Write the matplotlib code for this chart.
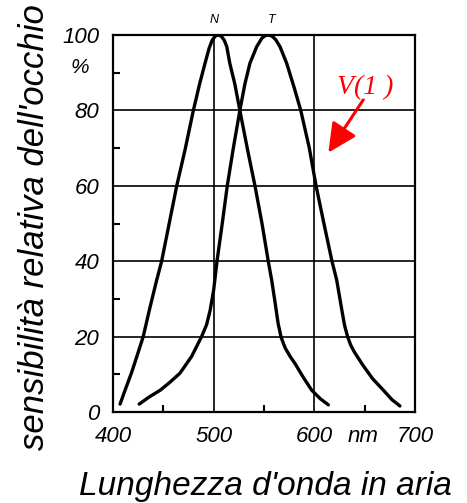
import matplotlib
matplotlib.use("Agg")
import matplotlib.pyplot as plt
from matplotlib.patches import ArrowStyle

# Scotopic (N) curve
n_wl = [407, 412, 418.5, 424, 430, 436.5, 443.4, 448.3, 455.8, 463.3, 471.5, 479.8, 486, 491.4, 495.5, 498.5, 501.5, 504.6,
        507.5, 510.5, 513, 516, 521, 526, 533.7, 541, 548, 554.2, 557.6, 561, 564, 567, 571, 576, 580.7, 589, 597.3, 606, 613.9]
n_val = [2.1, 5.8, 10.5, 15, 20, 27.5, 35, 40, 50, 60, 69.5, 80, 87, 92.5, 96.5, 98.6, 99.7, 100,
         99.7, 98.6, 96.9, 92.5, 87, 80, 69.5, 60, 50, 40, 35, 29, 23.5, 19.8, 17, 14.7, 12.9, 9.2, 5.8, 3.5, 1.9]

# Photopic (T) curve
t_wl = [426, 436, 447, 457, 466.5, 478, 488, 493, 496.5, 500, 503.3, 508.5, 513.5, 519.5, 526, 531, 536, 542.7, 548, 551, 554.3,
        558, 561.5, 565.9, 572.5, 580, 586.5, 595, 601.7, 609.5, 617.5, 622.2, 627, 630, 633, 636, 640, 648, 658, 668.5, 677, 685]
t_val = [2.1, 4, 5.8, 8, 10.3, 14.7, 20, 23.2, 27, 32.4, 40, 50, 60, 70, 80, 87, 92.5, 96.9, 99.2, 99.8, 100,
         99.7, 98.8, 96.9, 92.5, 86, 80, 70, 60, 50, 40, 35, 27.5, 23, 20, 17.8, 15.8, 12.5, 8.8, 5.8, 3.3, 1.6]

x_ticks = [400, 500, 600, 700]
y_ticks = [0, 20, 40, 60, 80, 100]

fig = plt.figure(figsize=(4.67, 5.03), dpi=100)
ax = fig.add_axes([0.242, 0.1809, 0.6467, 0.7495])
ax.set_xlim(400, 700)
ax.set_ylim(0, 100)

lab_font = dict(family=["Liberation Sans", "DejaVu Sans"], style="italic")

for y in [20, 40, 60, 80]:
    ax.axhline(y, color="black", lw=1.2, zorder=1)
for x in [500, 600]:
    ax.axvline(x, color="black", lw=1.2, zorder=1)

ax.plot(n_wl, n_val, color="black", lw=2.4, solid_capstyle="round", solid_joinstyle="round", zorder=3)
ax.plot(t_wl, t_val, color="black", lw=2.4, solid_capstyle="round", solid_joinstyle="round", zorder=3)

for s in ax.spines.values():
    s.set_linewidth(1.6)

ax.set_xticks(x_ticks[:3] + [648] + x_ticks[3:])
ax.set_xticklabels([str(v) for v in x_ticks[:3]] + ["nm"] + [str(v) for v in x_ticks[3:]], fontsize=16, **lab_font)
ax.set_yticks(y_ticks)
ax.set_yticklabels([str(v) for v in y_ticks], fontsize=16, **lab_font)
ax.tick_params(which="major", length=0, pad=10)
ax.set_xticks([450, 550, 650], minor=True)
ax.set_yticks([10, 30, 50, 70, 90], minor=True)
ax.tick_params(which="minor", direction="in", length=5, width=1.5)

ax.text(-0.109, 91.5, "%", transform=ax.get_yaxis_transform(), ha="center", va="center", fontsize=15, **lab_font)

ax.text(500, 102.5, "N", ha="center", va="bottom", fontsize=9, **lab_font)
ax.text(558, 102.5, "T", ha="center", va="bottom", fontsize=9, **lab_font)

ax.text(650, 86, "V(1 )", color="red", ha="center", va="center", fontsize=20,
        family=["Liberation Serif", "DejaVu Serif"], style="italic")
ax.annotate("", xy=(613.9, 68.8), xytext=(648.6, 82.8),
            arrowprops=dict(arrowstyle=ArrowStyle("-|>", head_length=17.6, head_width=8.6),
                            color="red", lw=2.2, mutation_scale=1, shrinkA=0, shrinkB=0),
            annotation_clip=False)

fig.text(44 / 467, 1 - 227 / 503, "sensibilità relativa dell'occhio", rotation=90, rotation_mode="anchor",
         ha="center", va="baseline", fontsize=25, **lab_font)
fig.text(265 / 467, 1 - 495 / 503, "Lunghezza d'onda in aria", ha="center", va="baseline", fontsize=24, **lab_font)

fig.savefig("out.png", dpi=100)
